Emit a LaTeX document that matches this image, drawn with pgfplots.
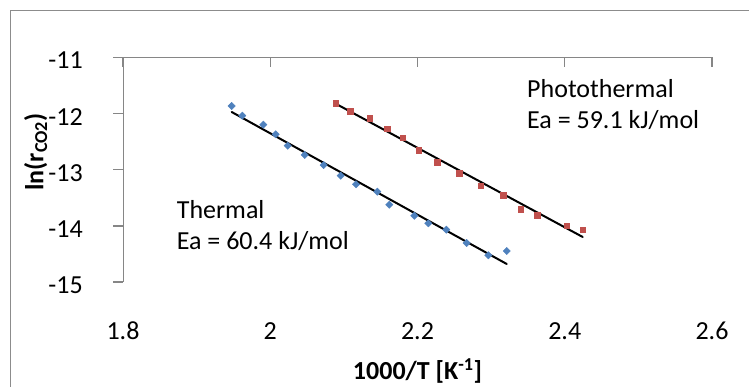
\documentclass[border=0pt]{standalone}
\usepackage{pgfplots}
\pgfplotsset{compat=1.18}
\usepackage{fontspec}
\setmainfont{Carlito}
\definecolor{serblue}{RGB}{79,129,189}
\definecolor{serred}{RGB}{192,80,77}
\definecolor{axgray}{RGB}{134,134,134}
\definecolor{framegray}{RGB}{140,140,140}
\begin{document}
\begin{tikzpicture}[font=\fontsize{26}{31}\selectfont]
\useasboundingbox (0pt,0pt) rectangle (749pt,387pt);
\draw[framegray, line width=1.5pt] (770pt,376.5pt) -- (10.5pt,376.5pt) -- (10.5pt,-20pt);
\begin{axis}[
  at={(123pt,105pt)}, anchor=south west,
  scale only axis, width=589pt, height=224.5pt,
  xmin=1.8, xmax=2.6, ymin=-15, ymax=-11,
  axis line style={draw=none},
  xtick={1.8,2,2.2,2.4,2.6}, xticklabels={1.8,2,2.2,2.4,2.6},
  ytick={-15,-14,-13,-12,-11}, yticklabels={-15,-14,-13,-12,-11},
  xtick pos=upper, xticklabel pos=lower,
  ytick pos=left, yticklabel pos=left,
  xtick align=inside, ytick align=outside,
  major tick length=10pt,
  tick style={axgray, line width=1.3pt},
  xticklabel style={anchor=base, inner sep=0pt, yshift=-58pt},
  yticklabel style={anchor=east, inner sep=0pt, xshift=-30pt, yshift=-3pt},
  xlabel={\bfseries 1000/T [K\textsuperscript{-1}]},
  ylabel={\bfseries ln(r\textsubscript{CO2})},
  xlabel style={at={(axis description cs:0.5,0)}, anchor=base, inner sep=0pt, yshift=-97.3pt},
  ylabel style={at={(axis description cs:-0.1353,0.579)}, anchor=base, inner sep=0pt, rotate=0},
  every axis plot/.append style={line cap=round},
]
% Thermal
\addplot[only marks, mark=square*, mark size=2.6pt, mark options={rotate=45, fill=serblue, draw=serblue}] coordinates {
(1.9476,-11.864) (1.9620,-12.037) (1.9906,-12.197) (2.0074,-12.368) (2.0237,-12.571)
(2.0468,-12.737) (2.0726,-12.916) (2.0957,-13.106) (2.1165,-13.259) (2.1454,-13.391)
(2.1617,-13.623) (2.1957,-13.819) (2.2147,-13.954) (2.2391,-14.068) (2.2668,-14.305)
(2.2962,-14.524) (2.3212,-14.448)
};
% Photothermal
\addplot[only marks, mark=square*, mark size=2.9pt, mark options={fill=serred, draw=serred}] coordinates {
(2.0889,-11.816) (2.1083,-11.953) (2.1351,-12.083) (2.1590,-12.269) (2.1799,-12.429)
(2.2017,-12.653) (2.2269,-12.867) (2.2568,-13.063) (2.2858,-13.284) (2.3161,-13.455)
(2.3402,-13.705) (2.3623,-13.806) (2.4027,-13.997) (2.4244,-14.068)
};
% fitted lines
\addplot[black, line width=2pt, no marks] coordinates {(1.9476,-11.971) (2.3212,-14.679)};
\addplot[black, line width=2pt, no marks] coordinates {(2.0889,-11.823) (2.4244,-14.198)};
% axis lines
\draw[axgray, line width=1.5pt] (rel axis cs:0,0) -- (rel axis cs:0,1) -- (rel axis cs:1,1);
\end{axis}
\node[anchor=base west, inner sep=0pt] at (176.7pt,168.7pt) {Thermal};
\node[anchor=base west, inner sep=0pt] at (176.7pt,137pt) {Ea = 60.4 kJ/mol};
\node[anchor=base west, inner sep=0pt] at (527pt,289.5pt) {Photothermal};
\node[anchor=base west, inner sep=0pt] at (527pt,258pt) {Ea = 59.1 kJ/mol};
\end{tikzpicture}
\end{document}
